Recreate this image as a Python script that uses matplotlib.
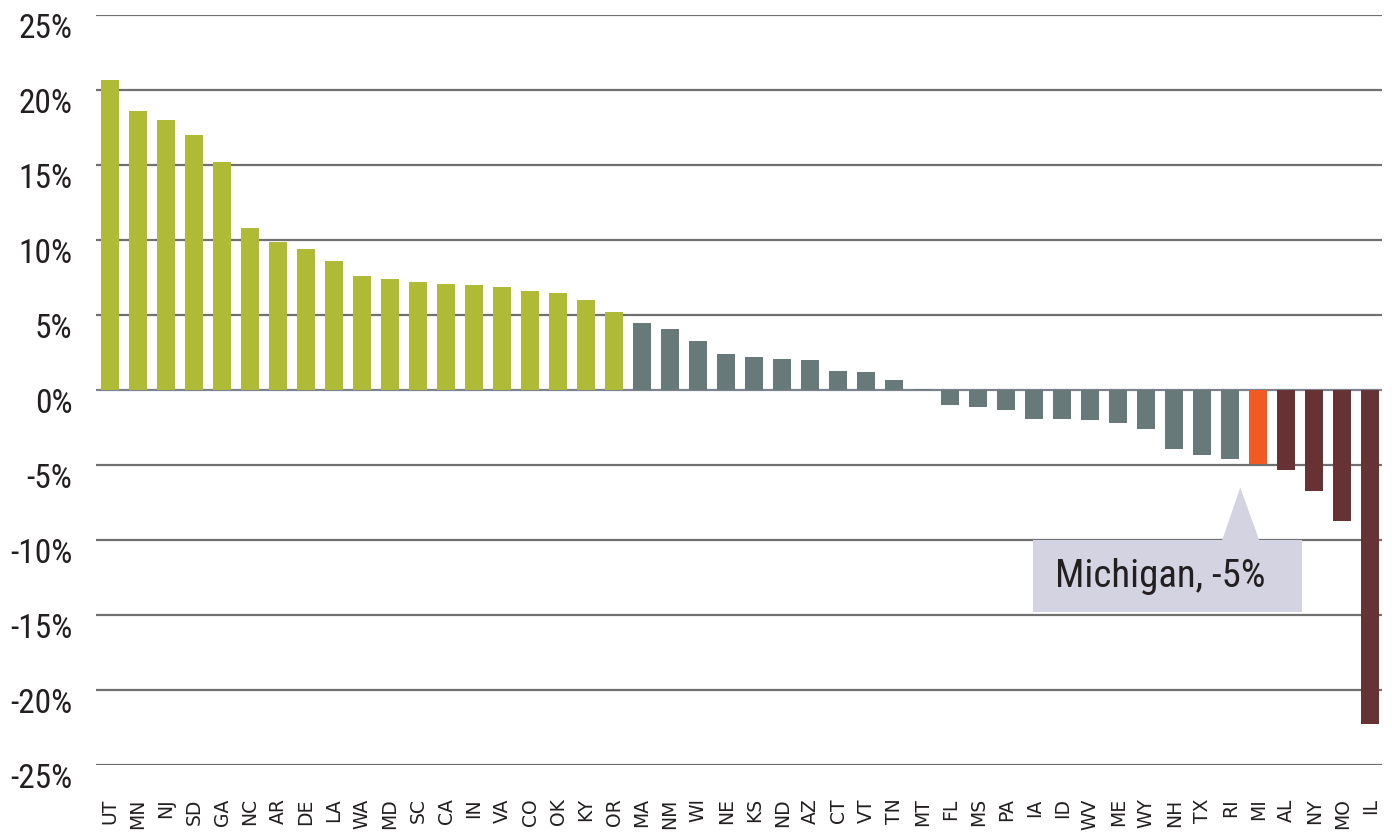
import matplotlib
matplotlib.use("Agg")
import matplotlib.pyplot as plt
from matplotlib.patches import Rectangle, Polygon
from matplotlib.transforms import ScaledTranslation

# State-level change, sorted from largest gain to largest loss
states = ['UT', 'MN', 'NJ', 'SD', 'GA', 'NC', 'AR', 'DE', 'LA', 'WA', 'MD', 'SC',
          'CA', 'IN', 'VA', 'CO', 'OK', 'KY', 'OR', 'MA', 'NM', 'WI', 'NE', 'KS',
          'ND', 'AZ', 'CT', 'VT', 'TN', 'MT', 'FL', 'MS', 'PA', 'IA', 'ID', 'WV',
          'ME', 'WY', 'NH', 'TX', 'RI', 'MI', 'AL', 'NY', 'MO', 'IL']
change = [20.7, 18.6, 18.0, 17.0, 15.2, 10.8, 9.9, 9.4, 8.6, 7.6, 7.4, 7.2,
          7.1, 7.0, 6.9, 6.6, 6.5, 6.0, 5.2, 4.5, 4.1, 3.3, 2.4, 2.2,
          2.1, 2.0, 1.3, 1.2, 0.7, 0.1, -1.0, -1.1, -1.3, -1.9, -1.9, -2.0,
          -2.2, -2.6, -3.9, -4.3, -4.6, -4.9, -5.3, -6.7, -8.7, -22.3]
yticks = [25, 20, 15, 10, 5, 0, -5, -10, -15, -20, -25]
ytick_labels = ['25%', '20%', '15%', '10%', '5%', '0%', '-5%', '-10%', '-15%', '-20%', '-25%']
highlight = 'MI'
highlight_label = 'Michigan, -5%'

GREEN = '#AFBA37'
SLATE = '#677A79'
ORANGE = '#F15A22'
MAROON = '#663233'
BOX = '#D3D3E1'
INK = '#231F20'

narrow = ['Roboto Condensed', 'Liberation Sans Narrow', 'Liberation Sans']

def bar_color(state, v):
    if state == highlight:
        return ORANGE
    if v > 5:
        return GREEN
    if v < -5:
        return MAROON
    return SLATE

fig = plt.figure(figsize=(13.92, 8.4), dpi=100)
ax = fig.add_axes([0.069, 0.0893, 0.924, 0.8928])

x = list(range(len(states)))
ax.bar(x, change, width=0.64, color=[bar_color(s, v) for s, v in zip(states, change)],
       zorder=3)

# horizontal rules
for t in yticks:
    ax.axhline(t, color='#7d8290' if t == 0 else '#707070', lw=1.6, zorder=1)

ax.set_xlim(-0.5, len(states) - 0.57)
ax.set_ylim(-25, 25)
for s in ax.spines.values():
    s.set_visible(False)

ax.set_yticks(yticks)
ax.set_yticklabels(ytick_labels, family=narrow, fontsize=24, color=INK, va='top')
ax.tick_params(axis='y', length=0, pad=17)
for lab in ax.get_yticklabels():
    lab.set_transform(lab.get_transform() + ScaledTranslation(0, 0.02, fig.dpi_scale_trans))

ax.set_xticks(x)
ax.set_xticklabels(states, rotation=90, fontsize=13.5, color=INK, va='top',
                   family=['DejaVu Sans'])
ax.tick_params(axis='x', length=0, pad=24)

# callout pointing at the highlighted state
mi = states.index(highlight)
box_l, box_r = mi - 8.04, mi + 1.57
box_t, box_b = -10.03, -14.77
ax.add_patch(Rectangle((box_l, box_b), box_r - box_l, box_t - box_b,
                       facecolor=BOX, edgecolor='none', zorder=4))
ax.add_patch(Polygon([(mi - 1.29, box_t), (mi - 0.64, -6.5), (mi + 0.04, box_t)],
                     closed=True, facecolor=BOX, edgecolor='none', zorder=4))
ax.text(mi - 3.5, (box_t + box_b) / 2, highlight_label, family=narrow, fontsize=28,
        color=INK, ha='center', va='center', zorder=5)

fig.savefig('out.png', dpi=100)
